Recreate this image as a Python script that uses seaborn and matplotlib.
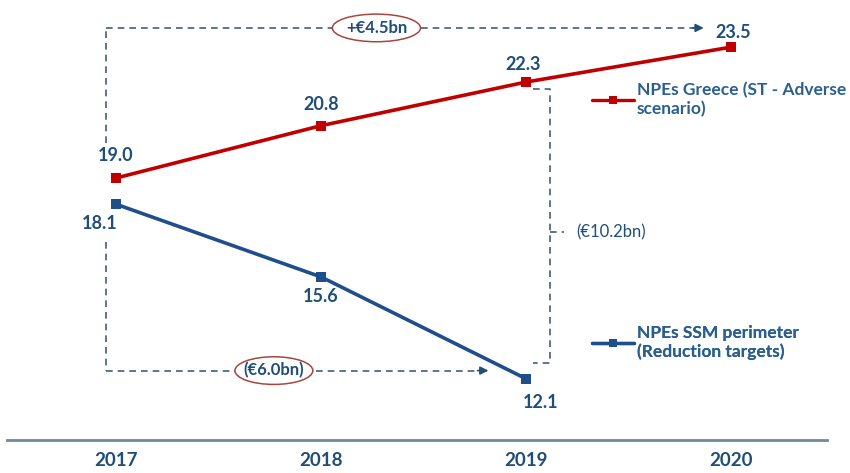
import matplotlib
matplotlib.use("Agg")
import matplotlib.pyplot as plt
from matplotlib.lines import Line2D
from matplotlib.patches import Ellipse
import seaborn as sns
import pandas as pd

# Data (EUR bn)
years = [2017, 2018, 2019, 2020]
greece_values = [19.0, 20.8, 22.3, 23.5]
ssm_years = [2017, 2018, 2019]
ssm_values = [18.1, 15.6, 12.1]
greece_label = "NPEs Greece (ST - Adverse\nscenario)"
ssm_label = "NPEs SSM perimeter\n(Reduction targets)"
gap_top = "+€4.5bn"
gap_bottom = "(€6.0bn)"
gap_right = "(€10.2bn)"

RED = "#c00000"
BLUE = "#1f4e8c"
TXT = "#1f4e79"
AXIS = "#6f8a98"

sns.set_theme(style="white")
plt.rcParams["font.family"] = ["Lato", "DejaVu Sans"]

df = pd.concat([
    pd.DataFrame({"year": years, "value": greece_values, "series": "greece"}),
    pd.DataFrame({"year": ssm_years, "value": ssm_values, "series": "ssm"}),
])

fig = plt.figure(figsize=(8.5, 4.73), dpi=100)
ax = fig.add_axes([0, 0, 1, 1])
sns.lineplot(data=df, x="year", y="value", hue="series",
             palette={"greece": RED, "ssm": BLUE}, marker="s",
             markersize=7, markeredgewidth=0, linewidth=2.6,
             legend=False, ax=ax)

ax.set_xlim(2016.434, 2020.580)
ax.set_ylim(8.86, 25.12)
ax.set_xlabel("")
ax.set_ylabel("")
for s in ["top", "right", "left"]:
    ax.spines[s].set_visible(False)
ax.spines["bottom"].set_position(("data", 10.0))
ax.spines["bottom"].set_bounds(2016.47, 2020.47)
ax.spines["bottom"].set_color(AXIS)
ax.spines["bottom"].set_linewidth(2)
ax.set_yticks([])
ax.set_xticks(years)
ax.set_xticklabels([str(y) for y in years])
ax.tick_params(axis="x", length=0, pad=9, labelsize=13.5, labelcolor=TXT)
for t in ax.get_xticklabels():
    t.set_fontweight("bold")
ax.set_facecolor("white")

lab = dict(color=TXT, fontsize=13, fontweight="bold", ha="center", va="center")
g_off = [(0, 0.78), (0, 0.72), (-0.015, 0.6), (0.01, 0.5)]
for x, v, (dx, dy) in zip(years, greece_values, g_off):
    ax.text(x + dx, v + dy, f"{v:.1f}", **lab)
s_off = [(-0.08, -0.68), (0.0, -0.68), (0.07, -0.82)]
for x, v, (dx, dy) in zip(ssm_years, ssm_values, s_off):
    ax.text(x + dx, v + dy, f"{v:.1f}", **lab)

# dashed connectors
dash = dict(color="#3f5f7a", linewidth=1.2, linestyle=(0, (4, 3)))
x_left = 2016.953
y_top = 24.16
y_bot = 12.38
ax.plot([x_left, x_left], [19.0 + 1.2, y_top], **dash)
ax.plot([x_left, 2019.82], [y_top, y_top], **dash)
ax.annotate("", xy=(2019.88, y_top), xytext=(2019.80, y_top),
            arrowprops=dict(arrowstyle="-|>", color="#1f4e79", lw=1.2,
                            mutation_scale=12))
ax.plot([x_left, x_left], [18.1 - 1.3, y_bot], **dash)
ax.plot([x_left, 2018.77], [y_bot, y_bot], **dash)
ax.annotate("", xy=(2018.83, y_bot), xytext=(2018.75, y_bot),
            arrowprops=dict(arrowstyle="-|>", color="#1f4e79", lw=1.2,
                            mutation_scale=12))
x_br = 2019.117
ax.plot([2019.035, x_br, x_br, 2019.035],
        [22.05, 22.05, 12.65, 12.65], **dash)
ax.plot([x_br, x_br + 0.07], [17.13, 17.13], **dash)
ax.text(x_br + 0.13, 17.13, gap_right, color=TXT, fontsize=12,
        ha="left", va="center")

for cx, cy, w, txt in [(2018.27, y_top, 0.43, gap_top),
                       (2017.77, y_bot, 0.38, gap_bottom)]:
    ax.add_patch(Ellipse((cx, cy), w, 0.95, facecolor="white",
                         edgecolor="#a8453f", linewidth=1.1, zorder=4))
    ax.text(cx, cy, txt, color=TXT, fontsize=12, fontweight="bold",
            ha="center", va="center", zorder=5)

# legends
for color, text, anchor in [(RED, greece_label, (0.697, 0.826)),
                            (BLUE, ssm_label, (0.697, 0.313))]:
    h = Line2D([], [], color=color, marker="s", markersize=6,
               linewidth=2.4, markeredgewidth=0)
    leg = ax.legend([h], [text], loc="upper left", bbox_to_anchor=anchor,
                    frameon=False, handlelength=2.4, handletextpad=0.15,
                    borderpad=0, borderaxespad=0,
                    prop={"family": ["Lato", "DejaVu Sans"], "weight": "bold",
                          "size": 12.5})
    for t in leg.get_texts():
        t.set_color("#2b5f8f")
        t.set_linespacing(1.2)
    ax.add_artist(leg)

fig.savefig("out.png", dpi=100, facecolor="white")
